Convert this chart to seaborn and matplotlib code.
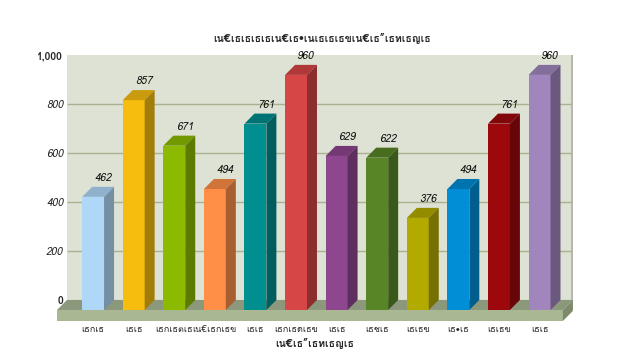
import matplotlib
matplotlib.use("Agg")
import matplotlib.pyplot as plt
import matplotlib.colors as mcolors
from matplotlib import font_manager
from matplotlib.ft2font import FT2Font
from matplotlib.patches import Polygon, Rectangle
import pandas as pd
import seaborn as sns

# data
months = ["เธกเธ", "เธเธ", "เธกเธตเธ", "เน€เธกเธข", "เธเธ", "เธกเธดเธข",
          "เธเธ", "เธชเธ", "เธเธข", "เธ•เธ", "เธเธข", "เธเธ"]
sales = [462, 857, 671, 494, 761, 960, 629, 622, 376, 494, 761, 960]
bar_colors = ["#AFD8F8", "#F6BD0F", "#8BBA00", "#FF8E46", "#008E8E", "#D64646",
              "#8E468E", "#588526", "#B3AA00", "#008ED6", "#9D080D", "#A186BE"]
y_ticks = [0, 200, 400, 600, 800, 1000]
y_tick_labels = ["0", "200", "400", "600", "800", "1,000"]
title = "เน€เธเธเธเธเน€เธ•เนเธเธเธขเน€เธ\u201dเธทเธญเธ"
x_title = "เน€เธ\u201dเธทเธญเธ"

sns.set_style("white")

# find an installed family with thai glyphs
thai_family = None
for f in font_manager.fontManager.ttflist:
    try:
        if 0x0E40 in FT2Font(f.fname).get_charmap():
            thai_family = f.name
            break
    except Exception:
        pass
families = ["DejaVu Sans"] if thai_family is None else [thai_family, "DejaVu Sans"]
plt.rcParams["font.family"] = families

# 3d look
dx = 0.246       # depth in category units
D = 41           # depth in value units
T = 45           # floor thickness
xl, xr = -0.89, 11.82

# month labels repeat after the encoding mess, so keep a unique key per bar
keys = [f"m{i:02d}" for i in range(len(months))]
df = pd.DataFrame({"key": keys, "sales": sales})

fig = plt.figure(figsize=(6.44, 3.56), dpi=100)
ax = fig.add_axes([0.0885, 0.0983, 0.801, 0.747])

# back wall
ax.add_patch(Rectangle((xl + dx, 0), xr - xl - dx - 0.04, 1000,
                       facecolor="#DEE2D4", edgecolor="none", zorder=0))
ax.add_patch(Rectangle((xr - 0.04, -T + 2), 0.04, 1000 + T - 2,
                       facecolor="#B5B9AC", edgecolor="none", zorder=0))
ax.hlines([200, 400, 600, 800], xl + dx, xr - 0.04, colors="#A9B28E",
          lw=1, zorder=0.5)

# floor
ax.add_patch(Polygon([(xl, -D), (xr - dx, -D), (xr, 0), (xl + dx, 0)],
                     closed=True, facecolor="#8C987C", edgecolor="none", zorder=0.6))
ax.add_patch(Rectangle((xl, -D - T), xr - dx - xl, T,
                       facecolor="#A9B893", edgecolor="none", zorder=0.6))
ax.add_patch(Polygon([(xr - dx, -D - T), (xr, -T), (xr, 0), (xr - dx, -D)],
                     closed=True, facecolor="#7D8A6C", edgecolor="none", zorder=0.6))

n_before = len(ax.patches)
sns.barplot(data=df, x="key", y="sales", hue="key", palette=bar_colors,
            width=0.54, legend=False, errorbar=None, ax=ax, saturation=1,
            zorder=2)
bars = list(ax.patches[n_before:])

for p, v, c in zip(bars, sales, bar_colors):
    p.set_y(-D)
    p.set_edgecolor("none")
    x0 = p.get_x()
    x1 = x0 + p.get_width()
    rgb = mcolors.to_rgb(c)
    top_c = tuple(ch * 0.82 for ch in rgb)
    side_c = tuple(ch * 0.66 for ch in rgb)
    ax.add_patch(Polygon([(x0, v - D), (x1, v - D), (x1 + dx, v), (x0 + dx, v)],
                         closed=True, facecolor=top_c, edgecolor="none", zorder=2))
    ax.add_patch(Polygon([(x1, -D), (x1 + dx, 0), (x1 + dx, v), (x1, v - D)],
                         closed=True, facecolor=side_c, edgecolor="none", zorder=2))
    ax.text((x0 + x1) / 2 + dx, v + 16, str(v), ha="center", va="bottom",
            fontsize=7.5, style="italic", color="#111111", zorder=3)

ax.set_xlim(xl, xr)
ax.set_ylim(-D - T, 1000)
ax.set_xticks(range(len(months)))
ax.set_xticklabels(months)
ax.set_yticks(y_ticks)
ax.set_yticklabels(y_tick_labels)
for lab, val in zip(ax.get_yticklabels(), y_ticks):
    if val in (0, 1000):
        lab.set_fontweight("bold")
    else:
        lab.set_fontstyle("italic")
    lab.set_fontsize(7.5)
ax.tick_params(axis="y", length=0, pad=-4.5)
ax.tick_params(axis="x", length=0, pad=3, labelsize=6.5)
ax.set_xlabel(x_title, fontsize=7.5, fontweight="bold", labelpad=3)
ax.set_ylabel("")
for s in ax.spines.values():
    s.set_visible(False)

fig.text(0.5, 1 - 38 / 356, title, ha="center", va="center",
         fontsize=7.5, fontweight="bold")

fig.savefig("out.png", dpi=100)
